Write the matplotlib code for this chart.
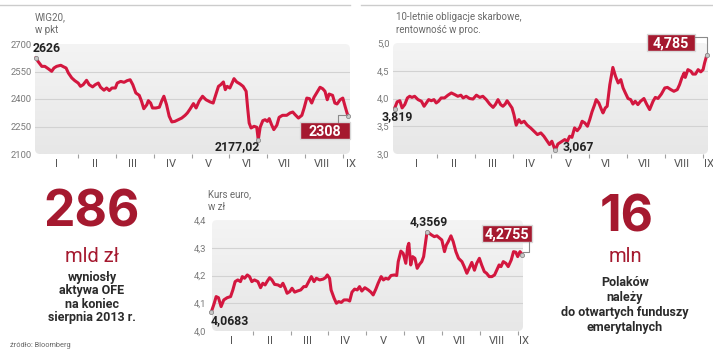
import numpy as np
import matplotlib.pyplot as plt
from matplotlib.patches import FancyBboxPatch, Rectangle
from matplotlib.lines import Line2D
from matplotlib.colors import LinearSegmentedColormap

W, H = 720, 356

# ---- data -------------------------------------------------------------
months = ['I', 'II', 'III', 'IV', 'V', 'VI', 'VII', 'VIII', 'IX']

# WIG20, pkt (time in months since 1 Jan 2013)
wig_t = [-0.11, -0.05, 0.05, 0.13, 0.22, 0.31, 0.37, 0.44, 0.55, 0.62,
         0.69, 0.75, 0.84, 0.92, 1.01, 1.07, 1.14, 1.23, 1.30, 1.39,
         1.46, 1.54, 1.60, 1.69, 1.76, 1.83, 1.90, 1.99, 2.04, 2.13,
         2.22, 2.30, 2.38, 2.45, 2.53, 2.62, 2.68, 2.74, 2.82, 2.86,
         2.92, 2.97, 3.06, 3.15, 3.21, 3.27, 3.34, 3.41, 3.48, 3.56,
         3.65, 3.74, 3.83, 3.89, 3.96, 4.05, 4.12, 4.20, 4.29, 4.38,
         4.49, 4.57, 4.64, 4.71, 4.77, 4.84, 4.89, 4.94, 5.01, 5.07,
         5.12, 5.19, 5.28, 5.36, 5.44, 5.48, 5.52, 5.57, 5.65, 5.72,
         5.76, 5.81, 5.88, 5.94, 6.00, 6.05, 6.11, 6.17, 6.25, 6.31,
         6.40, 6.51, 6.60, 6.67, 6.73, 6.82, 6.91, 6.97, 7.04, 7.11,
         7.17, 7.23, 7.30, 7.39, 7.46, 7.52, 7.58, 7.63, 7.72, 7.78,
         7.84, 7.92, 7.99, 8.05, 8.11, 8.14]
wig_v = [2626, 2605, 2578, 2578, 2565, 2551, 2569, 2578, 2584, 2576,
         2569, 2542, 2515, 2500, 2487, 2469, 2478, 2502, 2478, 2466,
         2478, 2487, 2464, 2448, 2460, 2446, 2460, 2460, 2487, 2496,
         2491, 2500, 2505, 2478, 2433, 2420, 2388, 2347, 2369, 2391,
         2378, 2351, 2351, 2355, 2388, 2415, 2369, 2306, 2275, 2278,
         2287, 2296, 2311, 2324, 2345, 2375, 2351, 2388, 2415, 2396,
         2384, 2378, 2424, 2469, 2478, 2493, 2451, 2469, 2460, 2487,
         2511, 2493, 2482, 2469, 2442, 2351, 2269, 2242, 2251, 2246,
         2177.02, 2246, 2282, 2287, 2278, 2293, 2260, 2233, 2257, 2300,
         2311, 2311, 2324, 2329, 2315, 2296, 2311, 2351, 2405, 2402,
         2378, 2409, 2433, 2464, 2456, 2442, 2396, 2427, 2420, 2378,
         2373, 2396, 2405, 2360, 2318, 2308]

# 10-letnie obligacje, rentownosc %
bond_t = [-0.13, -0.06, 0.01, 0.07, 0.14, 0.21, 0.27, 0.33, 0.40, 0.49,
          0.58, 0.65, 0.71, 0.77, 0.84, 0.91, 0.97, 1.03, 1.10, 1.19,
          1.28, 1.37, 1.46, 1.54, 1.62, 1.68, 1.76, 1.85, 1.94, 2.03,
          2.12, 2.20, 2.29, 2.38, 2.47, 2.53, 2.60, 2.67, 2.73, 2.79,
          2.84, 2.91, 2.97, 3.02, 3.08, 3.15, 3.21, 3.29, 3.37, 3.46,
          3.55, 3.64, 3.73, 3.81, 3.90, 3.96, 4.02, 4.11, 4.18, 4.27,
          4.36, 4.43, 4.49, 4.55, 4.62, 4.69, 4.76, 4.82, 4.89, 4.96,
          5.02, 5.08, 5.15, 5.19, 5.26, 5.33, 5.37, 5.43, 5.48, 5.55,
          5.63, 5.70, 5.77, 5.84, 5.90, 5.96, 6.03, 6.10, 6.16, 6.22,
          6.29, 6.36, 6.45, 6.52, 6.60, 6.69, 6.75, 6.82, 6.91, 7.00,
          7.07, 7.16, 7.24, 7.33, 7.39, 7.45, 7.51, 7.54, 7.61, 7.69,
          7.74, 7.81, 7.88, 7.95, 8.01, 8.05, 8.11]
bond_v = [3.819, 3.94, 3.96, 3.83, 3.89, 4.01, 4.04, 4.02, 4.04, 3.98,
          3.95, 3.86, 3.92, 3.98, 3.96, 3.98, 3.92, 3.95, 4.01, 4.01,
          4.06, 4.10, 4.07, 4.04, 4.06, 4.01, 4.04, 4.00, 3.99, 4.06,
          4.02, 4.04, 3.98, 3.90, 3.84, 3.89, 3.98, 3.89, 3.86, 3.90,
          3.96, 3.89, 3.83, 3.71, 3.52, 3.62, 3.56, 3.59, 3.52, 3.47,
          3.41, 3.35, 3.38, 3.32, 3.23, 3.17, 3.23, 3.067, 3.18, 3.22,
          3.26, 3.23, 3.32, 3.30, 3.47, 3.42, 3.48, 3.59, 3.56, 3.50,
          3.62, 3.76, 3.89, 3.98, 3.92, 3.80, 3.74, 3.83, 3.86, 4.25,
          4.56, 4.40, 4.28, 4.34, 4.19, 4.10, 4.00, 3.98, 3.90, 3.95,
          3.89, 3.95, 4.00, 3.90, 3.80, 3.95, 4.02, 4.00, 4.08, 4.19,
          4.20, 4.16, 4.13, 4.16, 4.25, 4.37, 4.46, 4.38, 4.52, 4.49,
          4.44, 4.44, 4.52, 4.48, 4.52, 4.64, 4.785]

# Kurs euro, zl
eur_t = [-0.09, -0.02, 0.04, 0.10, 0.17, 0.24, 0.33, 0.42, 0.48, 0.54,
         0.61, 0.68, 0.73, 0.79, 0.86, 0.92, 0.98, 1.05, 1.14, 1.21,
         1.27, 1.33, 1.39, 1.45, 1.51, 1.58, 1.67, 1.74, 1.80, 1.86,
         1.91, 1.98, 2.04, 2.11, 2.18, 2.27, 2.35, 2.41, 2.48, 2.55,
         2.62, 2.68, 2.77, 2.86, 2.92, 2.97, 3.03, 3.07, 3.15, 3.21,
         3.27, 3.34, 3.41, 3.50, 3.56, 3.62, 3.69, 3.76, 3.82, 3.88,
         3.96, 4.05, 4.12, 4.18, 4.25, 4.31, 4.39, 4.45, 4.51, 4.58,
         4.65, 4.74, 4.80, 4.84, 4.91, 4.97, 5.04, 5.09, 5.12, 5.17,
         5.22, 5.28, 5.34, 5.40, 5.46, 5.51, 5.57, 5.60, 5.66, 5.72,
         5.79, 5.86, 5.92, 5.99, 6.06, 6.11, 6.16, 6.23, 6.29, 6.36,
         6.43, 6.52, 6.58, 6.65, 6.71, 6.78, 6.85, 6.91, 6.98, 7.04,
         7.11, 7.17, 7.24, 7.31, 7.38, 7.44, 7.50, 7.55, 7.61, 7.68,
         7.74, 7.82, 7.88, 7.94, 7.99, 8.05, 8.11]
eur_v = [4.0683, 4.096, 4.124, 4.12, 4.088, 4.112, 4.12, 4.124, 4.148, 4.178,
         4.184, 4.178, 4.196, 4.19, 4.202, 4.196, 4.178, 4.184, 4.178, 4.156,
         4.172, 4.166, 4.18, 4.192, 4.184, 4.168, 4.166, 4.16, 4.172, 4.154,
         4.136, 4.142, 4.154, 4.14, 4.144, 4.148, 4.16, 4.16, 4.178, 4.196,
         4.178, 4.19, 4.184, 4.187, 4.192, 4.202, 4.19, 4.148, 4.118, 4.10,
         4.106, 4.103, 4.112, 4.112, 4.108, 4.14, 4.151, 4.148, 4.16, 4.144,
         4.156, 4.148, 4.14, 4.13, 4.151, 4.172, 4.196, 4.184, 4.19, 4.187,
         4.20, 4.202, 4.20, 4.25, 4.288, 4.28, 4.244, 4.304, 4.316, 4.238,
         4.268, 4.262, 4.226, 4.24, 4.25, 4.268, 4.328, 4.3569, 4.352, 4.346,
         4.34, 4.343, 4.336, 4.328, 4.286, 4.31, 4.322, 4.343, 4.322, 4.286,
         4.262, 4.25, 4.232, 4.208, 4.226, 4.247, 4.219, 4.244, 4.262, 4.238,
         4.214, 4.208, 4.196, 4.196, 4.202, 4.22, 4.238, 4.232, 4.25, 4.244,
         4.232, 4.256, 4.286, 4.284, 4.268, 4.286, 4.2755]

wig_ticks = [2100, 2250, 2400, 2550, 2700]
wig_ticklabels = ['2100', '2250', '2400', '2550', '2700']
bond_ticks = [3.0, 3.5, 4.0, 4.5, 5.0]
bond_ticklabels = ['3,0', '3,5', '4,0', '4,5', '5,0']
eur_ticks = [4.0, 4.1, 4.2, 4.3, 4.4]
eur_ticklabels = ['4,0', '4,1', '4,2', '4,3', '4,4']

left_number, left_unit = '286', 'mld zł'
left_lines = ['wyniosły', 'aktywa OFE', 'na koniec', 'sierpnia 2013 r.']
right_number, right_unit = '16', 'mln'
right_lines = ['Polaków', 'należy', 'do otwartych funduszy', 'emerytalnych']

# ---- style ------------------------------------------------------------
RED = '#d3173f'
DARK_RED = '#a5192f'
COND = ['Liberation Sans Narrow', 'Roboto', 'DejaVu Sans']
REG = ['Roboto', 'DejaVu Sans']

fig = plt.figure(figsize=(W / 100, H / 100), dpi=100)
fig.patch.set_facecolor('white')


def pfig(px, py):
    return px / W, 1 - py / H


def ftext(px, py, s, **kw):
    x, y = pfig(px, py)
    return fig.text(x, y, s, **kw)


def fmt(v, nd):
    return f'{v:.{nd}f}'.replace('.', ',')


bg_cmap = LinearSegmentedColormap.from_list('bg', ['#e7e7e7', '#f4f4f4'])


def panel(box, xlim, ylim, t, v, ticks, ticklabels, ypad):
    x0, y0, x1, y1 = box
    ax = fig.add_axes([x0 / W, 1 - y1 / H, (x1 - x0) / W, (y1 - y0) / H])
    ax.set_facecolor('none')
    bg = FancyBboxPatch((x0 / 100, (H - y1) / 100), (x1 - x0) / 100, (y1 - y0) / 100,
                        boxstyle='round,pad=0,rounding_size=0.05',
                        transform=fig.dpi_scale_trans, fc='none', ec='none')
    fig.add_artist(bg)
    grad = np.linspace(0, 1, 64).reshape(-1, 1)
    im = ax.imshow(grad, extent=[xlim[0], xlim[1], ylim[0], ylim[1]], origin='lower',
                   aspect='auto', cmap=bg_cmap, zorder=0)
    im.set_clip_path(bg)
    for g in ticks[1:-1]:
        ax.axhline(g, color='#d2d2d2', lw=0.8, zorder=1)
    ax.plot(t, v, color=RED, lw=2.2, solid_joinstyle='round', solid_capstyle='round',
            zorder=3, clip_on=False)
    ax.set_xlim(xlim)
    ax.set_ylim(ylim)
    for s in ax.spines.values():
        s.set_visible(False)
    ax.set_yticks(ticks, ticklabels)
    ax.tick_params(axis='y', length=0, pad=ypad, labelsize=6.8, labelcolor='#7a7a7a')
    for lab in ax.get_yticklabels():
        lab.set_family(REG)
    ax.set_xticks(np.arange(1, 9))
    ax.set_xticklabels([])
    ax.tick_params(axis='x', length=3, width=0.8, color='#a0a0a0', direction='out')
    return ax


def month_labels(ax, xlim):
    pos = [i + 0.45 for i in range(8)] + [xlim[1] + 0.03]
    for p, m in zip(pos, months):
        ax.annotate(m, (p, 0), xycoords=ax.get_xaxis_transform(),
                    xytext=(0, -3.5), textcoords='offset points',
                    ha='center', va='top', fontsize=8, color='#555555',
                    family=REG, annotation_clip=False)


def marker(ax, x, y):
    ax.plot([x], [y], 'o', ms=3, mfc='#c8c8c8', mec='#8a8a8a', mew=0.6, zorder=5,
            clip_on=False)


def value_box(x0, y0, x1, y1, s):
    x, y = pfig(x0, y1)
    fig.add_artist(Rectangle((x, y), (x1 - x0) / W, (y1 - y0) / H,
                             transform=fig.transFigure, fc=DARK_RED, ec='#d8d8d8', lw=1.0))
    ftext((x0 + x1) / 2, (y0 + y1) / 2 + 5, s, ha='center', va='baseline',
          fontsize=10.3, fontweight='bold', color='white', family=REG)


def leader(points):
    xs = [p[0] / W for p in points]
    ys = [1 - p[1] / H for p in points]
    fig.add_artist(Line2D(xs, ys, transform=fig.transFigure, color='#8a8a8a', lw=0.8))


# top rules
fig.add_artist(Line2D([0, 350 / W], [1 - 5 / H] * 2, transform=fig.transFigure,
                      color='#cccccc', lw=1))
fig.add_artist(Line2D([361 / W, 712 / W], [1 - 5 / H] * 2, transform=fig.transFigure,
                      color='#cccccc', lw=1))

# ---- WIG20 ----
lim1 = (-0.13, 8.18)
ax1 = panel((35, 44, 350, 154), lim1, (2100, 2700), wig_t, wig_v,
            wig_ticks, wig_ticklabels, 2.5)
month_labels(ax1, lim1)
i_min = int(np.argmin(wig_v))
marker(ax1, wig_t[0], wig_v[0])
marker(ax1, wig_t[i_min], wig_v[i_min])
marker(ax1, wig_t[-1], wig_v[-1])
ftext(35, 12, 'WIG20,\nw pkt', ha='left', va='top', fontsize=7, color='#6a6a6a',
      family=REG, linespacing=1.35)
ftext(33, 52.5, f'{wig_v[0]:.0f}', ha='left', va='baseline', fontsize=8.8,
      fontweight='bold', color='#222222', family=COND)
ftext(215, 150, fmt(wig_v[i_min], 2), ha='left', va='baseline', fontsize=8.8,
      fontweight='bold', color='#222222', family=COND)
value_box(300, 122, 350, 139, f'{wig_v[-1]:.0f}')
leader([(338, 122), (338, 115), (347, 115)])

# ---- bonds ----
lim2 = (-0.17, 8.14)
ax2 = panel((393, 43, 708, 154), lim2, (3.0, 5.0), bond_t, bond_v,
            bond_ticks, bond_ticklabels, 2.5)
month_labels(ax2, lim2)
j_min = int(np.argmin(bond_v))
marker(ax2, bond_t[0], bond_v[0])
marker(ax2, bond_t[j_min], bond_v[j_min])
marker(ax2, bond_t[-1], bond_v[-1])
ftext(396, 12, '10-letnie obligacje skarbowe,\nrentowność w proc.', ha='left', va='top',
      fontsize=7, color='#6a6a6a', family=REG, linespacing=1.35)
ftext(382, 120.5, fmt(bond_v[0], 3), ha='left', va='baseline', fontsize=8.8,
      fontweight='bold', color='#222222', family=COND)
ftext(563, 150.5, fmt(bond_v[j_min], 3), ha='left', va='baseline', fontsize=8.8,
      fontweight='bold', color='#222222', family=COND)
value_box(647, 34, 695, 51, fmt(bond_v[-1], 3))
leader([(695, 37), (707, 37), (707, 53)])

# ---- euro ----
lim3 = (-0.07, 8.13)
ax3 = panel((212, 220, 523, 331), lim3, (4.0, 4.4), eur_t, eur_v,
            eur_ticks, eur_ticklabels, 4)
month_labels(ax3, lim3)
k_max = int(np.argmax(eur_v))
marker(ax3, eur_t[0], eur_v[0])
marker(ax3, eur_t[k_max], eur_v[k_max])
marker(ax3, eur_t[-1], eur_v[-1])
ftext(208, 189, 'Kurs euro,\nw zł', ha='left', va='top', fontsize=7, color='#6a6a6a',
      family=REG, linespacing=1.35)
ftext(211, 324.5, fmt(eur_v[0], 4), ha='left', va='baseline', fontsize=8.8,
      fontweight='bold', color='#222222', family=COND)
ftext(410, 225, fmt(eur_v[k_max], 4), ha='left', va='baseline', fontsize=8.8,
      fontweight='bold', color='#222222', family=COND)
value_box(482, 225, 532, 242, fmt(eur_v[-1], 4))
leader([(529, 242), (529, 252), (523, 252)])

# ---- side facts ----
ftext(92, 227, left_number, ha='center', va='baseline', fontsize=36, fontweight='bold',
      color=DARK_RED, family=['Inter', 'Roboto', 'DejaVu Sans'])
ftext(92, 262, left_unit, ha='center', va='baseline', fontsize=14.5, color=DARK_RED,
      family=REG)
for i, line in enumerate(left_lines):
    ftext(92, 281 + 13.3 * i, line, ha='center', va='baseline', fontsize=9,
          fontweight='bold', color='#2b2b2b', family=COND)

ftext(627, 231, right_number, ha='center', va='baseline', fontsize=36, fontweight='bold',
      color=DARK_RED, family=['Inter', 'Roboto', 'DejaVu Sans'])
ftext(625, 262, right_unit, ha='center', va='baseline', fontsize=14.5, color=DARK_RED,
      family=REG)
for i, line in enumerate(right_lines):
    ftext(625, 286 + 15 * i, line, ha='center', va='baseline', fontsize=9,
          fontweight='bold', color='#2b2b2b', family=COND)

ftext(10, 347, 'źródło: Bloomberg', ha='left', va='baseline', fontsize=5.3,
      color='#666666', family=REG)

# the source graphic is cropped just right of the bond panel
fig.add_artist(Rectangle((713 / W, 0), 7 / W, 1, transform=fig.transFigure,
                         fc='white', ec='none', zorder=20))

fig.savefig('out.png', dpi=100, facecolor='white')
